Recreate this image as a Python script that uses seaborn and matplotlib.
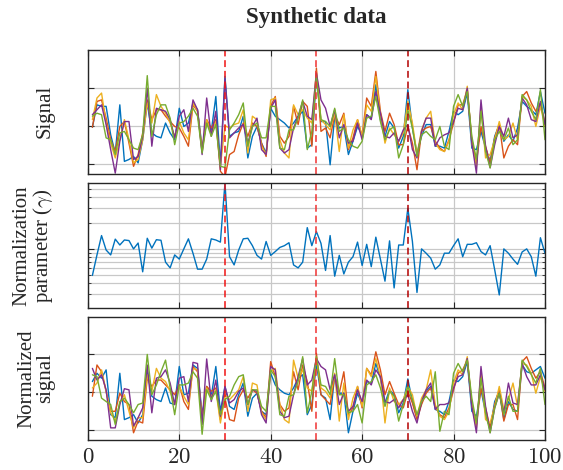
import numpy as np
import pandas as pd
import matplotlib
matplotlib.use("Agg")
import matplotlib.pyplot as plt
import seaborn as sns
from matplotlib.ticker import FixedLocator, FixedFormatter, NullFormatter, LogLocator

# ---------------- data ----------------
x = list(range(1, 101))

signal_blue = [-0.04, 0.55, 0.51, 0.51, -0.24, -0.72, 0.55, -0.94, -0.89, -0.81,
               -0.98, -0.37, 0.60, -0.19, -0.28, -0.32, 0.07, -0.19, -0.37, 0.46,
               -0.02, 0.07, 0.60, 0.42, -0.59, 0.11, -0.15, 0.77, -1.03, 1.30,
               -0.28, -0.19, -0.15, 0.25, -0.85, -0.28, -0.02, -0.46, -0.72, 0.46,
               0.25, 0.16, 0.07, -0.06, 0.07, 0.25, 0.38, -0.59, -0.50, 1.30,
               0.11, 0.11, -1.03, 0.25, -0.06, -0.02, -0.76, -0.41, -0.02, -0.24,
               0.29, 0.20, 1.08, 0.16, -0.28, 0.11, -0.06, -0.59, -0.28, 0.95,
               -0.06, -0.72, -0.28, 0.03, 0.03, -0.54, -0.54, -0.59, -0.15, 0.38,
               0.29, 0.38, 0.86, -0.59, -0.63, -0.15, -0.59, -0.94, -0.28, 0.03,
               -0.41, -0.24, -0.41, -0.06, 0.64, 0.51, 0.42, 0.29, 0.90, 0.33]
signal_orange = [-0.04, 0.64, 0.68, 0.20, -0.37, -0.68, -0.02, 0.11, -0.46, -1.07,
                 -0.76, -0.19, 0.68, 0.16, 0.42, 0.42, 0.25, 0.11, -0.02, -0.06,
                 -0.28, -0.54, 0.55, 0.38, -0.68, 0.16, -0.06, 0.16, -1.20, -1.35,
                 -0.76, -0.68, -0.24, 0.07, -0.28, 0.07, -0.02, -0.46, -0.81, 0.51,
                 0.77, -0.28, -0.46, -0.28, 0.51, 0.03, 0.64, 0.51, -0.54, 1.52,
                 -0.15, -0.06, -0.32, 0.29, 0.03, 0.33, -0.63, -0.32, 0.16, -0.28,
                 0.73, 0.51, 1.43, 0.38, -0.15, 0.33, 0.03, -0.50, -0.50, -0.02,
                 -0.46, -1.16, -0.15, -0.06, -0.02, -0.41, -0.59, -0.68, -0.37, 0.07,
                 0.55, 0.55, 0.95, -0.37, -0.98, -0.02, -0.54, -0.98, -0.32, 0.03,
                 -0.85, -0.54, -0.37, -0.50, 0.77, 0.90, 0.60, 0.38, 0.60, 0.07]
signal_yellow = [0.16, 0.73, 0.86, 0.07, -0.46, -0.85, -0.37, 0.16, -0.37, -0.98,
                 -0.89, -0.37, 0.60, 0.07, 0.82, 0.51, 0.33, 0.07, -0.28, 0.11,
                 -0.19, -0.37, 0.60, 0.38, -0.63, 0.16, -0.19, 0.11, -1.07, 0.00,
                 -0.06, 0.03, 0.07, 0.42, -0.72, 0.25, 0.16, -0.54, -0.76, 0.68,
                 0.73, -0.37, -0.72, -0.85, 0.55, 0.29, 0.42, 0.20, 0.07, 1.43,
                 0.16, 0.03, -0.11, 0.33, -0.68, 0.29, -0.59, -0.11, 0.16, -0.28,
                 0.55, 0.38, 1.30, 0.29, -0.46, -0.06, -0.24, -0.41, -0.19, 0.64,
                 0.07, -0.76, -0.11, 0.20, 0.38, -0.46, -0.63, -0.68, -0.41, 0.29,
                 0.60, 0.42, 1.04, -0.46, -1.07, 0.51, -0.85, -0.76, -0.37, 0.11,
                 -0.37, -0.28, 0.07, -0.37, 0.77, 0.68, 0.51, -0.02, 0.51, -0.02]
signal_purple = [0.29, 0.42, 0.55, 0.03, -0.63, -1.25, -0.41, 0.11, 0.11, -0.89,
                 -0.81, -0.28, 0.99, -0.54, 0.46, 0.42, 0.38, 0.16, -0.32, 0.25,
                 0.42, -0.15, 0.68, 0.42, -0.76, 0.73, -0.28, 0.38, -1.16, 1.25,
                 -0.32, -0.19, -0.06, 0.03, -0.46, -0.02, 0.20, -0.63, -0.76, 0.46,
                 0.68, -0.59, -0.72, -0.63, -0.06, 0.25, 0.64, 0.25, 0.16, 1.39,
                 0.68, 0.46, -0.02, 0.42, -0.32, 0.03, -0.46, -0.41, 0.07, -0.37,
                 0.29, 0.16, 0.90, 0.33, -0.28, -0.32, -0.19, -0.41, -0.11, 0.03,
                 -0.63, -0.85, -0.15, 0.20, 0.20, -0.54, -0.32, -0.24, -0.19, 0.11,
                 0.46, 0.42, 0.99, -0.46, -1.25, 0.68, -0.54, -1.11, -0.50, -0.02,
                 -0.28, 0.20, -0.32, -0.24, 0.73, 0.55, 0.16, 0.11, 0.64, 0.03]
signal_green = [0.25, 0.33, 0.29, -0.32, -0.37, -0.76, -0.19, -0.15, -0.37, -0.59,
                -0.63, -0.24, 1.32, -0.28, 0.29, 0.55, 0.55, 0.20, -0.50, 0.07,
                0.11, 0.25, 0.46, 0.25, -0.72, 0.07, -0.28, 0.03, -1.07, -1.10,
                -0.11, 0.07, 0.29, 0.60, -0.54, -0.02, 0.07, -0.32, -0.32, 0.51,
                0.51, -0.59, -0.63, -0.11, -0.11, 0.20, 0.68, -0.63, -0.15, 1.30,
                0.16, 0.11, -0.02, 0.46, -0.15, -0.06, -0.37, -0.54, -0.59, -0.41,
                0.20, 0.25, 0.77, 0.11, -0.37, -0.11, -0.02, -0.85, -0.50, 0.42,
                -0.06, -0.81, -0.24, -0.15, -0.28, -0.37, -0.02, -0.54, -0.63, 0.51,
                0.82, 0.51, 0.90, -0.28, -0.89, 0.38, -0.68, -1.11, -0.37, -0.15,
                -0.37, -0.06, -0.50, -0.37, 0.82, 0.68, 0.38, 0.16, 0.95, -0.37]

gamma = [0.49, 0.85, 1.43, 0.97, 0.85, 1.30, 1.11, 1.27, 1.25, 1.00,
         1.17, 0.54, 1.33, 1.02, 1.28, 1.26, 0.70, 0.60, 0.85, 0.76,
         1.00, 1.31, 0.89, 0.58, 0.58, 0.76, 1.31, 1.27, 1.20, 5.90,
         0.81, 0.65, 0.97, 1.31, 1.33, 1.09, 0.84, 0.76, 1.22, 0.84,
         0.93, 1.04, 1.09, 1.18, 0.65, 0.60, 0.70, 1.77, 1.09, 1.59,
         1.16, 0.56, 1.43, 0.48, 0.84, 0.51, 0.70, 0.81, 1.20, 0.64,
         1.13, 0.62, 1.37, 0.76, 0.42, 1.24, 0.35, 1.11, 1.11, 2.97,
         1.22, 0.31, 1.00, 0.89, 0.78, 0.58, 0.65, 0.89, 0.89, 1.09,
         1.31, 0.81, 1.13, 1.13, 1.18, 0.93, 0.85, 1.09, 0.57, 0.29,
         1.00, 0.89, 0.76, 0.66, 0.92, 1.00, 0.81, 0.48, 1.35, 0.89]

norm_blue = [0.28, 0.50, 0.37, 0.59, -0.60, -0.68, 0.50, -0.73, -0.68, -0.60,
             -0.82, -0.60, 0.54, -0.11, -0.20, -0.25, 0.11, -0.29, -0.33, 0.68,
             -0.07, -0.03, 0.72, 0.63, -0.60, 0.15, -0.11, 0.68, -0.51, 0.15,
             -0.38, -0.46, -0.07, 0.24, -0.64, -0.16, -0.03, -0.51, -0.60, 0.50,
             0.19, 0.06, -0.03, -0.07, 0.11, 0.37, 0.46, -0.60, -0.33, 0.76,
             -0.07, -0.16, -0.73, 0.46, -0.03, -0.03, -1.08, -0.51, -0.03, -0.33,
             0.28, 0.24, 0.76, 0.37, -0.29, 0.06, -0.07, -0.55, -0.29, 0.35,
             -0.25, -0.68, -0.29, 0.02, 0.15, -0.46, -0.51, -0.60, -0.25, 0.32,
             0.28, 0.41, 0.81, -0.51, -0.64, 0.06, -0.55, -0.99, -0.25, 0.02,
             -0.73, -0.25, -0.46, -0.51, 0.72, 0.54, 0.50, 0.59, 0.68, 0.37]
norm_orange = [-0.11, 0.72, 0.54, 0.02, -0.51, -0.51, -0.03, -0.25, -0.33, -1.08,
               -0.77, -0.82, 0.37, 0.15, 0.32, 0.32, 0.19, 0.06, -0.07, 0.19,
               -0.25, -0.46, 0.68, 0.54, -0.68, 0.15, 0.02, 0.11, -0.73, -0.16,
               -0.73, -0.77, -0.16, 0.06, -0.16, 0.06, -0.03, -0.51, -0.68, 0.81,
               0.41, -0.33, -0.51, -0.42, 0.54, 0.06, 0.72, 0.28, -0.51, 1.03,
               -0.07, -0.20, -0.33, 0.41, -0.03, 0.54, -0.60, -0.42, 0.15, -0.42,
               0.63, 0.46, 1.07, 0.59, -0.07, 0.28, -0.03, -0.33, -0.42, 0.02,
               -0.29, -0.73, -0.33, -0.03, 0.11, -0.38, -0.60, -0.68, -0.42, 0.06,
               0.50, 0.59, 0.85, -0.33, -0.86, 0.11, -0.42, -0.95, -0.33, 0.06,
               -0.77, -0.33, -0.33, -0.73, 0.81, 0.94, 0.63, 0.37, 0.54, 0.11]
norm_yellow = [0.11, 0.24, 0.59, 0.02, -0.55, -0.77, -0.29, -0.07, -0.51, -0.95,
               -0.68, -0.68, 0.46, 0.02, 0.63, 0.37, 0.28, 0.02, -0.33, 0.15,
               -0.11, -0.33, 0.63, 0.59, -0.73, 0.11, -0.11, 0.06, -0.82, -0.07,
               -0.20, -0.07, 0.06, 0.41, -0.51, 0.24, 0.19, -0.55, -0.73, 0.54,
               0.63, -0.33, -0.73, -0.82, 0.85, 0.37, 0.59, 0.11, 0.02, 0.89,
               0.11, 0.02, -0.16, 0.50, -0.77, 0.24, -0.73, -0.16, 0.15, -0.38,
               0.63, 0.41, 0.89, 0.41, -0.82, 0.11, -0.25, -0.33, -0.20, 0.15,
               -0.07, -0.64, -0.16, 0.06, 0.59, -0.33, -0.64, -0.73, -0.51, 0.24,
               0.59, 0.46, 0.94, -0.33, -0.95, 0.54, -0.73, -0.82, -0.38, 0.15,
               -0.46, -0.20, 0.24, -0.38, 0.76, 0.72, 0.50, -0.03, 0.41, 0.02]
norm_purple = [0.63, 0.32, 0.46, 0.06, -0.95, -0.95, -0.33, 0.09, 0.06, -0.90,
               -0.68, -0.42, 0.72, -0.55, 0.37, 0.41, 0.59, 0.24, -0.33, 0.37,
               0.41, -0.25, 0.79, 0.76, -0.86, 0.88, -0.25, 0.32, -0.64, 0.15,
               -0.29, -0.20, 0.02, 0.11, -0.33, 0.06, 0.02, -0.60, -0.82, 0.68,
               0.59, -0.51, -0.68, -0.64, -0.07, 0.41, 0.89, 0.19, 0.32, 0.89,
               0.68, 0.59, 0.06, 0.46, -0.33, -0.03, -0.51, -0.38, 0.06, -0.25,
               0.32, 0.19, 0.59, 0.41, -0.25, -0.29, -0.20, -0.42, -0.20, -0.07,
               -0.51, -0.82, -0.25, 0.06, 0.24, -0.46, -0.33, -0.33, -0.29, 0.11,
               0.41, 0.46, 0.89, -0.38, -1.08, 0.68, -0.38, -1.08, -0.42, -0.03,
               -0.55, 0.24, -0.29, -0.33, 0.76, 0.41, 0.19, 0.19, 0.46, 0.06]
norm_green = [0.46, 0.41, -0.16, -0.25, -0.33, -0.86, -0.25, -0.16, -0.33, -0.55,
              -0.33, -0.29, 1.00, -0.07, 0.19, 0.54, 0.85, 0.11, -0.60, 0.19,
              0.19, 0.24, 0.54, 0.37, -1.12, 0.06, -0.20, 0.02, -0.60, -0.20,
              -0.11, 0.19, 0.41, 0.46, -0.33, 0.06, 0.06, -0.38, -0.51, 0.59,
              0.41, -0.60, -0.64, -0.11, -0.07, 0.28, 0.94, -0.55, 0.02, 0.94,
              0.19, 0.15, -0.07, 0.89, -0.07, -0.07, -0.55, -0.51, -0.33, -0.82,
              0.19, 0.28, 0.46, 0.11, -0.38, 0.02, -0.11, -0.77, -0.33, 0.15,
              -0.20, -0.60, -0.25, -0.11, -0.25, 0.54, -1.04, -0.51, -0.60, 0.50,
              0.76, 0.54, 0.85, -0.16, -0.82, 0.37, -0.55, -1.08, -0.42, -0.03,
              -0.60, -0.11, -0.51, -0.51, 0.85, 0.68, 0.46, 0.24, 0.63, -0.33]

series_names = ["s1", "s2", "s3", "s4", "s5"]
series_colors = ["#0072BD", "#D95319", "#EDB120", "#7E2F8E", "#77AC30"]
event_x = [30, 50, 70]
event_colors = ["#f01414", "#f03232", "#b40000"]
xticks = [0, 20, 40, 60, 80, 100]
xtick_labels = ["$0$", "$20$", "$40$", "$60$", "$80$", "$100$"]
lin_yticks = [-1, 0, 1]

# ---------------- style ----------------
sns.set_style("ticks")
plt.rcParams["font.family"] = ["Liberation Serif", "DejaVu Serif"]
plt.rcParams["mathtext.fontset"] = "cm"
plt.rcParams["axes.edgecolor"] = "#262626"
plt.rcParams["axes.linewidth"] = 1.0

def long_frame(arrays):
    frames = []
    for name, arr in zip(series_names, arrays):
        frames.append(pd.DataFrame({"x": x, "value": arr, "series": name}))
    return pd.concat(frames, ignore_index=True)

df_sig = long_frame([signal_blue, signal_orange, signal_yellow, signal_purple, signal_green])
df_norm = long_frame([norm_blue, norm_orange, norm_yellow, norm_purple, norm_green])
df_gamma = pd.DataFrame({"x": x, "gamma": gamma})

fig = plt.figure(figsize=(5.63, 4.70), dpi=100)
L, W = 0.156, 0.812
ax1 = fig.add_axes([L, 0.630, W, 0.264])
ax2 = fig.add_axes([L, 0.345, W, 0.266])
ax3 = fig.add_axes([L, 0.064, W, 0.262])

grid_kw = dict(color="#c8c8c8", linewidth=0.9)

for ax, df in [(ax1, df_sig), (ax3, df_norm)]:
    sns.lineplot(data=df, x="x", y="value", hue="series", hue_order=series_names,
                 palette=series_colors, estimator=None, sort=False, linewidth=1.0,
                 legend=False, ax=ax, zorder=3)
    ax.set_ylim(-1.27, 2.0)
    ax.yaxis.set_major_locator(FixedLocator(lin_yticks))
    ax.yaxis.set_major_formatter(NullFormatter())
    ax.grid(True, which="major", **grid_kw)

sns.lineplot(data=df_gamma, x="x", y="gamma", color="#0072BD", linewidth=1.0,
             estimator=None, sort=False, ax=ax2, zorder=3)
ax2.set_yscale("log")
ax2.set_ylim(0.205, 5.9)
ax2.yaxis.set_major_locator(LogLocator(base=10))
ax2.yaxis.set_minor_locator(LogLocator(base=10, subs=np.arange(2, 10)))
ax2.yaxis.set_major_formatter(NullFormatter())
ax2.yaxis.set_minor_formatter(NullFormatter())
ax2.grid(True, axis="y", which="both", **grid_kw)
ax2.grid(True, axis="x", which="major", **grid_kw)

for ax in (ax1, ax2, ax3):
    ax.set_xlim(0, 100)
    ax.xaxis.set_major_locator(FixedLocator(xticks))
    ax.set_xlabel("")
    ax.set_ylabel("")
    ax.tick_params(direction="in", top=True, right=True, length=4, width=0.8,
                   color="#262626", which="major")
    ax.tick_params(direction="in", right=True, length=2, width=0.6, which="minor")
    for v, c in zip(event_x, event_colors):
        ax.axvline(v, color=c, linestyle=(0, (4.5, 2.5)), linewidth=1.1, zorder=4)
    for s in ax.spines.values():
        s.set_visible(True)
        s.set_zorder(5)

ax1.xaxis.set_major_formatter(NullFormatter())
ax2.xaxis.set_major_formatter(NullFormatter())
ax3.xaxis.set_major_formatter(FixedFormatter(xtick_labels))
ax3.tick_params(axis="x", labelsize=16.5, pad=5)

label_x = -0.072
ax1.set_ylabel("Signal", fontsize=15)
ax2.set_ylabel("Normalization\nparameter ($\\gamma$)", fontsize=15, linespacing=1.0)
ax3.set_ylabel("Normalized\nsignal", fontsize=15, linespacing=1.0)
for ax in (ax1, ax2, ax3):
    ax.yaxis.set_label_coords(label_x, 0.5)

ax1.set_title("Synthetic data", fontsize=16.5, fontweight="bold", pad=19)

fig.savefig("out.png", dpi=100)
